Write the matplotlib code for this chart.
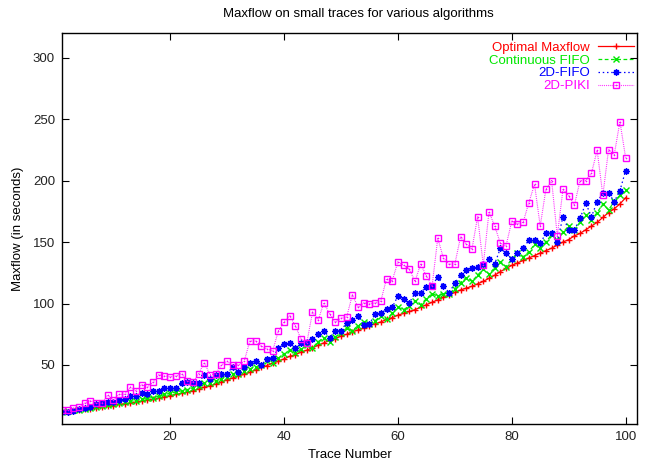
import numpy as np
import matplotlib
matplotlib.use("Agg")
import matplotlib.pyplot as plt
from matplotlib.legend_handler import HandlerTuple

plt.rcParams['font.family'] = ['Liberation Sans', 'DejaVu Sans']

trace = list(range(1, 101))

optimal = [11.5, 12, 12.5, 13, 14, 14.5, 15, 16, 16.5, 17,
           18, 18.5, 19, 20, 20.5, 21.5, 22, 23, 24, 25,
           26, 27, 28, 29, 30.5, 32, 33, 34.5, 36, 38,
           39.5, 41, 42.5, 44, 46, 48, 49.5, 51.5, 53, 55,
           57, 58.5, 60.5, 62, 64, 66, 68, 70, 71.5, 73.5,
           75, 77, 78.5, 80, 82, 83.5, 85, 87, 88.5, 90.5,
           92, 93.5, 95, 97, 99, 101, 103, 105, 107, 109,
           111, 112.5, 114, 116, 118, 120.5, 123, 126, 128.5, 131,
           133, 135, 137, 139, 141, 143, 145, 147.5, 150, 152,
           155, 157, 160, 163, 166, 170, 174, 177, 181, 186]

cont_fifo = [12, 12.5, 13, 13.5, 14.5, 15, 16, 16.5, 17.5, 18,
             19, 19.5, 20.5, 21, 22, 23, 23.5, 24.5, 26, 27,
             28, 29, 30, 31.5, 32.5, 35, 35.5, 37, 39, 40,
             43, 42.5, 45, 47, 48, 50, 53, 52, 55.5, 59,
             62, 60, 63, 66, 64, 69, 72, 69, 73, 76,
             80, 78, 82, 85, 83, 86, 90, 87, 92, 97,
             95, 98, 102, 99, 104, 108, 106, 108, 108, 112,
             117, 121, 118, 123, 128, 124, 129, 134, 130, 136,
             141, 138, 142, 148, 145, 150, 156, 152, 158, 163,
             160, 166, 172, 168, 174, 181, 176, 183, 188, 192]

fifo_2d = [12, 12, 12.8, 14, 15.3, 16, 18, 18.8, 20, 20,
           21.5, 22, 24.8, 24.8, 27, 26.5, 28.5, 28.5, 31, 31,
           31, 35.6, 36.4, 35, 35.6, 42, 39, 42, 43, 43,
           48.6, 44.5, 48.6, 52, 53, 50, 55, 56, 63.5, 67,
           68, 63.5, 67.6, 69, 71, 75, 78, 72, 78, 78,
           84.4, 86.6, 89.8, 82.5, 83.3, 91.5, 92, 95.3, 97, 106,
           104, 100.6, 108.3, 108.8, 113.7, 114.2, 121.8, 114.2, 108.8, 116.4,
           123.2, 127.2, 128.6, 129.9, 131.9, 135.9, 132.1, 144.9, 140.8, 136.2,
           140.8, 144.9, 151.6, 151.6, 149, 157, 157, 150.3, 170.6, 159.8,
           159.8, 169.3, 181.5, 170.6, 182.8, 189.6, 190.1, 182.8, 191.8, 208]

piki_2d = [13, 13, 15, 15.5, 19, 21, 19, 19, 25.5, 21.5,
           26, 26, 32, 29, 34, 32, 36, 42, 41, 40.5,
           41, 43, 37, 36, 43, 52, 42, 43, 50, 53,
           50, 50, 53, 69.5, 69.5, 65.5, 63, 61.4, 77.7, 85,
           90, 81.8, 71, 68, 93, 86.6, 100.5, 91.5, 85, 88,
           89, 107, 97, 100.5, 99.7, 100.5, 102, 120, 118.4, 134,
           131, 128, 118, 132, 122.5, 114, 153, 137, 132, 132,
           154, 148.5, 144, 170.5, 131, 174.6, 163, 149, 147, 167,
           165, 166, 182, 197, 163, 193, 200, 155, 193, 187.6,
           180, 200, 200, 206, 224.6, 188, 225, 221, 248, 218.6]

labels = ["Optimal Maxflow", "Continuous FIFO", "2D-FIFO", "2D-PIKI"]
colors = ["#ff0000", "#00e800", "#0000ff", "#ff00ff"]

fig = plt.figure(figsize=(6.45, 4.62), dpi=100)
ax = fig.add_axes([62/645, 38/462, 575/645, 391/462])

l1, = ax.plot(trace, optimal, color=colors[0], lw=0.9, ls='-',
              marker='+', ms=5, mew=1.0)
l2, = ax.plot(trace, cont_fifo, color=colors[1], lw=0.9, ls=(0, (3, 2)),
              marker='x', ms=4.5, mew=1.0)
l3, = ax.plot(trace, fifo_2d, color=colors[2], lw=0.9, ls=(0, (1.2, 2.2)),
              marker=(8, 2, 0), ms=4.6, mew=1.0)
l4, = ax.plot(trace, piki_2d, color=colors[3], lw=0.8, ls=(0, (0.7, 1.0)),
              marker='s', ms=5, mew=1.0, mfc='none')
l4d, = ax.plot(trace, piki_2d, color=colors[3], ls='none', marker='o', ms=1.2, mew=0)

ax.set_xlim(1, 102)
ax.set_ylim(2, 320)
ax.set_xticks([20, 40, 60, 80, 100])
ax.set_yticks([50, 100, 150, 200, 250, 300])
ax.tick_params(direction='in', length=5, width=0.8, top=True, right=True,
               labelsize=9.5, pad=5, colors='#000000', labelcolor='#222222')
for s in ax.spines.values():
    s.set_linewidth(1.0)

ax.set_xlabel("Trace Number", fontsize=9.5, labelpad=4)
ax.set_ylabel("Maxflow (in seconds)", fontsize=9.5, labelpad=6)
fig.text(358/645, 1 - 14/462, "Maxflow on small traces for various algorithms",
         ha='center', va='center', fontsize=9.5)

leg = ax.legend([l1, l2, l3, (l4, l4d)], labels, loc='upper right',
                bbox_to_anchor=(1.0, 0.987), frameon=False, markerfirst=False,
                fontsize=9.5, handlelength=2.7, handletextpad=0.6,
                labelspacing=0.05, borderaxespad=0.0, borderpad=0.25,
                handler_map={tuple: HandlerTuple(ndivide=1)})
for t, c in zip(leg.get_texts(), colors):
    t.set_color(c)
    t.set_ha('right')

fig.savefig("out.png", dpi=100)
